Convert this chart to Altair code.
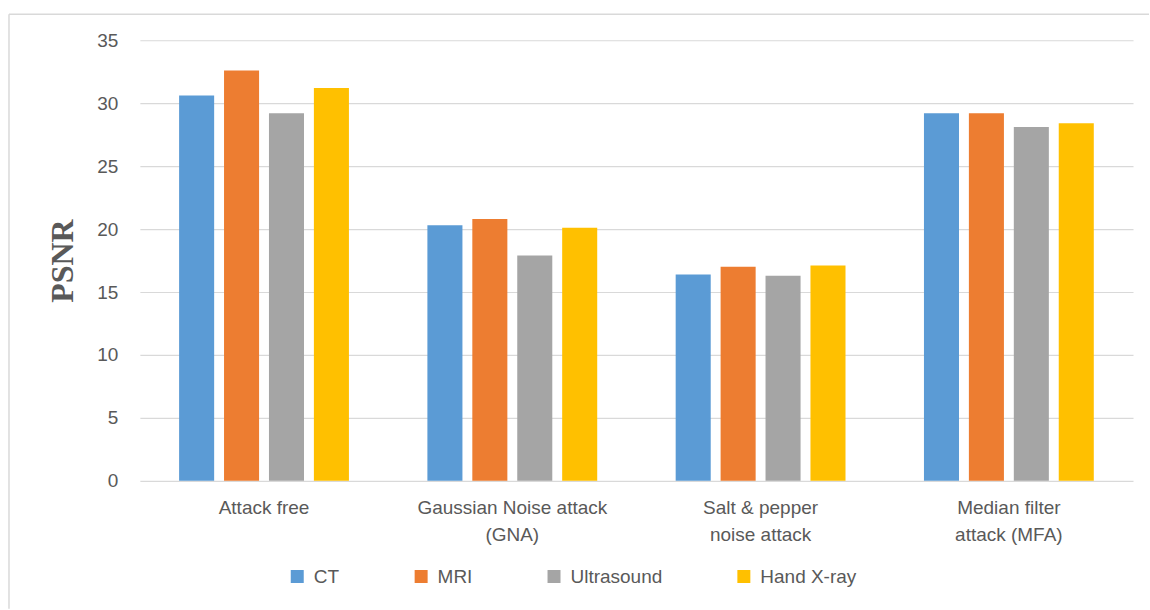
import altair as alt
import pandas as pd

categories = ["Attack free", "Gaussian Noise attack|(GNA)", "Salt & pepper|noise attack", "Median filter|attack (MFA)"]
series = ["CT", "MRI", "Ultrasound", "Hand X-ray"]
colors = ["#5B9BD5", "#ED7D31", "#A5A5A5", "#FFC000"]

ct = [30.6, 20.3, 16.4, 29.2]
mri = [32.6, 20.8, 17.0, 29.2]
ultrasound = [29.2, 17.9, 16.3, 28.1]
hand_xray = [31.2, 20.1, 17.1, 28.4]

y_ticks = [0, 5, 10, 15, 20, 25, 30, 35]

rows = []
for s, vals in zip(series, [ct, mri, ultrasound, hand_xray]):
    for c, v in zip(categories, vals):
        rows.append({"attack": c, "modality": s, "psnr": v})
df = pd.DataFrame(rows)

FONT = "Liberation Sans"
GREY = "#595959"

bars = alt.Chart(df).mark_bar().encode(
    x=alt.X("attack:N", sort=categories,
            scale=alt.Scale(paddingInner=0.316, paddingOuter=0.158),
            axis=alt.Axis(title=None, labelAngle=0, ticks=False, domain=False,
                          labelExpr="split(datum.label, '|')", labelLimit=400,
                          labelFont=FONT, labelFontSize=19, labelColor=GREY,
                          labelLineHeight=27, labelPadding=18)),
    xOffset=alt.XOffset("modality:N", sort=series,
                        scale=alt.Scale(paddingInner=0.22, paddingOuter=0)),
    y=alt.Y("psnr:Q", scale=alt.Scale(domain=[0, 35], nice=False),
            axis=alt.Axis(title="PSNR", values=y_ticks, ticks=False, domain=False,
                          grid=True, gridColor="#d9d9d9", gridWidth=1.2,
                          labelFont=FONT, labelFontSize=19, labelColor=GREY,
                          labelPadding=22,
                          titleFont="Liberation Serif", titleFontSize=32,
                          titleFontWeight="bold", titleColor=GREY,
                          titleAngle=270, titleX=-67, titleY=220.5,
                          titleAlign="center", titleBaseline="alphabetic")),
    color=alt.Color("modality:N", sort=series,
                    scale=alt.Scale(domain=series, range=colors),
                    legend=alt.Legend(title=None, orient="none", legendX=148, legendY=527,
                                      direction="horizontal", symbolType="square",
                                      symbolSize=169, symbolStrokeWidth=0,
                                      labelFont=FONT, labelFontSize=19, labelColor=GREY,
                                      labelOffset=7, columnPadding=72)),
)

frame = alt.Data(values=[{}])
top_line = alt.Chart(frame).mark_rule(color="#d9d9d9", strokeWidth=1.5).encode(
    x=alt.value(-131), x2=alt.value(1010), y=alt.value(-26),
)
left_line = alt.Chart(frame).mark_rule(color="#d9d9d9", strokeWidth=1.5).encode(
    x=alt.value(-131), y=alt.value(-26), y2=alt.value(569),
)

chart = alt.layer(top_line, left_line, bars).properties(
    width=994, height=441,
    padding={"left": 8, "top": 13, "right": 0, "bottom": 0},
    background="white",
).configure_view(stroke=None)

chart.save("out.html", embed_options={"renderer": "svg", "actions": False})
